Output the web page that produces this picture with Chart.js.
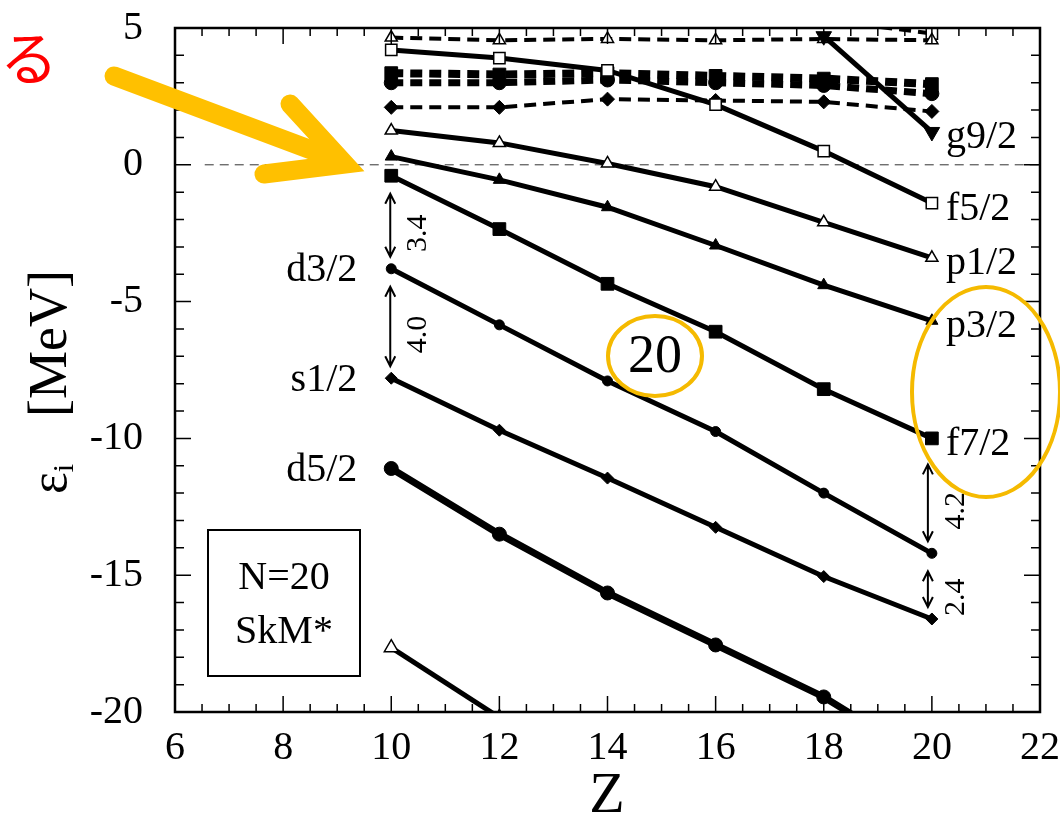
<!DOCTYPE html>
<html>
<head>
<meta charset="utf-8">
<script src="https://cdn.jsdelivr.net/npm/chart.js@4.4.1/dist/chart.umd.min.js"></script>
<style>
  html, body { margin: 0; padding: 0; background: #fff; }
</style>
</head>
<body>
<canvas id="levels" width="1060" height="820"></canvas>
<script>
// proton number Z on the x-axis
var zValues = [10, 12, 14, 16, 18, 20];

// single-particle energies [MeV], solid lines
var d52 = [-11.1, -13.5, -15.65, -17.55, -19.45, -21.9];
var s12 = [-7.8, -9.7, -11.45, -13.25, -15.05, -16.6];
var d32 = [-3.8, -5.85, -7.9, -9.75, -12.0, -14.2];
var f72 = [-0.4, -2.35, -4.35, -6.1, -8.2, -10.0];
var p32 = [0.3, -0.55, -1.55, -2.95, -4.4, -5.7];
var p12 = [1.25, 0.8, 0.05, -0.8, -2.1, -3.4];
var f52 = [4.2, 3.9, 3.45, 2.2, 0.5, -1.4];
var g92 = [null, null, null, null, 4.7, 1.2];
var p32deep = [-17.65, -20.2, null, null, null, null];

// upper levels, dashed lines
var dashTri = [4.65, 4.55, 4.6, 4.55, 4.6, 4.55];
var dashSqTop = [null, null, null, null, 5.3, 4.8];
var dashSq = [3.35, 3.3, 3.35, 3.25, 3.15, 2.95];
var dashCirc = [3.0, 3.0, 3.1, 3.0, 2.9, 2.6];
var dashDia = [2.1, 2.1, 2.4, 2.35, 2.3, 1.95];

// level names at the ends of the lines
var rightNames = ['g9/2', 'f5/2', 'p1/2', 'p3/2', 'f7/2'];
var rightLevels = [g92, f52, p12, p32, f72];
var leftNames = ['d3/2', 's1/2', 'd5/2'];
var leftLevels = [d32, s12, d52];

// gaps marked with double arrows: [Z, upper level, lower level]
var gaps = [[10, f72, d32], [10, d32, s12], [20, f72, d32], [20, d32, s12]];

var serif = '"Liberation Serif", "DejaVu Serif", serif';

function level(values, opts) {
  return Object.assign({
    data: zValues.map(function (z, i) { return { x: z, y: values[i] }; }),
    borderColor: '#000',
    backgroundColor: '#000',
    pointBackgroundColor: '#000',
    pointBorderColor: '#000',
    pointBorderWidth: 1,
    borderWidth: 5,
    pointRadius: 6,
    pointHoverRadius: 6,
    tension: 0,
    clip: 0
  }, opts);
}

var dash = [12, 7];

var datasets = [
  level(d52, { borderWidth: 7, pointStyle: 'circle', pointRadius: 7 }),
  level(s12, { pointStyle: 'rectRot', pointRadius: 6 }),
  level(d32, { pointStyle: 'circle', pointRadius: 5 }),
  level(f72, { pointStyle: 'rect', pointRadius: 9 }),
  level(p32, { pointStyle: 'triangle', pointRadius: 7 }),
  level(p12, { pointStyle: 'triangle', pointRadius: 7, pointBackgroundColor: '#fff', pointBorderWidth: 1.5 }),
  level(f52, { pointStyle: 'rect', pointRadius: 8, pointBackgroundColor: '#fff', pointBorderWidth: 1.5 }),
  level(g92, { pointStyle: 'triangle', pointRotation: 180, pointRadius: 9 }),
  level(p32deep, { pointStyle: 'triangle', pointRadius: 8, pointBackgroundColor: '#fff', pointBorderWidth: 1.5 }),
  level(dashTri, { borderWidth: 4, borderDash: dash, pointStyle: 'triangle', pointRadius: 7, pointBackgroundColor: '#fff', pointBorderWidth: 1.5 }),
  level(dashSqTop, { borderWidth: 4, borderDash: dash, pointStyle: 'rect', pointRadius: 8, pointBackgroundColor: '#fff', pointBorderWidth: 1.5 }),
  level(dashSq, { borderWidth: 8, borderDash: dash, pointStyle: 'rect', pointRadius: 9 }),
  level(dashCirc, { borderWidth: 7, borderDash: dash, pointStyle: 'circle', pointRadius: 7 }),
  level(dashDia, { borderWidth: 4, borderDash: dash, pointStyle: 'rectRot', pointRadius: 7 }),
  // zero energy line
  {
    data: [{ x: 6.55, y: 0 }, { x: 22, y: 0 }],
    borderColor: '#333',
    borderWidth: 1,
    borderDash: [9, 6],
    pointRadius: 0,
    clip: 0
  }
];

// inward ticks and the box round the plot
var frameTicks = {
  id: 'frameTicks',
  afterDatasetsDraw: function (chart) {
    var ctx = chart.ctx, a = chart.chartArea, x = chart.scales.x, y = chart.scales.y;
    ctx.save();
    ctx.strokeStyle = '#000';
    ctx.lineWidth = 1.5;
    ctx.beginPath();
    for (var v = 6; v <= 22; v += 0.5) {
      var px = x.getPixelForValue(v);
      var len = v % 2 === 0 ? 16 : 8;
      ctx.moveTo(px, a.bottom); ctx.lineTo(px, a.bottom - len);
      ctx.moveTo(px, a.top); ctx.lineTo(px, a.top + len);
    }
    for (var w = -20; w <= 5; w += 1) {
      var py = y.getPixelForValue(w);
      var l = w % 5 === 0 ? 16 : 9;
      ctx.moveTo(a.left, py); ctx.lineTo(a.left + l, py);
      ctx.moveTo(a.right, py); ctx.lineTo(a.right - l, py);
    }
    ctx.stroke();
    ctx.lineWidth = 2.5;
    ctx.strokeRect(a.left, a.top, a.right - a.left, a.bottom - a.top);
    ctx.restore();
  }
};

function doubleArrow(ctx, x, y1, y2) {
  ctx.beginPath();
  ctx.moveTo(x, y1); ctx.lineTo(x, y2);
  ctx.moveTo(x - 5, y1 + 10); ctx.lineTo(x, y1); ctx.lineTo(x + 5, y1 + 10);
  ctx.moveTo(x - 5, y2 - 10); ctx.lineTo(x, y2); ctx.lineTo(x + 5, y2 - 10);
  ctx.stroke();
}

// level names, gap arrows, the N=20 box, axis titles and the highlights
var notes = {
  id: 'notes',
  afterDraw: function (chart) {
    var ctx = chart.ctx, x = chart.scales.x, y = chart.scales.y;
    var last = zValues.length - 1;
    ctx.save();
    ctx.fillStyle = '#000';
    ctx.strokeStyle = '#000';
    ctx.textBaseline = 'middle';

    ctx.font = '40px ' + serif;
    ctx.textAlign = 'left';
    rightNames.forEach(function (name, i) {
      ctx.fillText(name, x.getPixelForValue(20) + 14, y.getPixelForValue(rightLevels[i][last]) + 6);
    });
    ctx.textAlign = 'right';
    leftNames.forEach(function (name, i) {
      ctx.fillText(name, x.getPixelForValue(10) - 34, y.getPixelForValue(leftLevels[i][0]) + 2);
    });

    // gap arrows with their sizes
    ctx.lineWidth = 2;
    gaps.forEach(function (g) {
      var idx = zValues.indexOf(g[0]);
      var hi = g[1][idx], lo = g[2][idx];
      var ax = x.getPixelForValue(g[0]) - (g[0] === 20 ? 4 : 1);
      var y1 = y.getPixelForValue(hi) + (g[0] === 20 && g[1] === f72 ? 26 : 18);
      var y2 = y.getPixelForValue(lo) - 12;
      doubleArrow(ctx, ax, y1, y2);
      ctx.save();
      ctx.translate(ax + 28, (y1 + y2) / 2 + 8);
      ctx.rotate(-Math.PI / 2);
      ctx.textAlign = 'center';
      ctx.font = '30px ' + serif;
      ctx.fillText((hi - lo).toFixed(1), 0, 0);
      ctx.restore();
    });

    // N=20 / SkM* box
    ctx.lineWidth = 2;
    ctx.strokeRect(208, 530, 152, 146);
    ctx.textAlign = 'center';
    ctx.font = '40px ' + serif;
    ctx.fillText('N=20', 284, 578);
    ctx.fillText('SkM*', 284, 632);

    // x-axis title
    ctx.font = '58px ' + serif;
    ctx.fillText('Z', 607, 797);

    // y-axis title
    ctx.save();
    ctx.translate(66, 494);
    ctx.rotate(-Math.PI / 2);
    ctx.textAlign = 'left';
    ctx.textBaseline = 'alphabetic';
    ctx.font = '52px ' + serif;
    ctx.fillText('\u03b5', 0, 0);
    var ew = ctx.measureText('\u03b5').width;
    ctx.font = '30px ' + serif;
    ctx.fillText('i', ew, 7);
    ctx.font = '54px ' + serif;
    ctx.fillText('[MeV]', 77, 0);
    ctx.restore();

    // highlights
    ctx.strokeStyle = '#F5BA00';
    ctx.lineWidth = 4;
    ctx.beginPath();
    ctx.ellipse(655, 356, 47, 40, 0, 0, Math.PI * 2);
    ctx.stroke();
    ctx.beginPath();
    ctx.ellipse(986, 392, 74, 105, 0, 0, Math.PI * 2);
    ctx.stroke();
    ctx.font = '54px ' + serif;
    ctx.fillStyle = '#000';
    ctx.textBaseline = 'middle';
    ctx.fillText('20', 655, 358);

    ctx.strokeStyle = '#FFC000';
    ctx.lineWidth = 19;
    ctx.lineCap = 'round';
    ctx.lineJoin = 'miter';
    ctx.beginPath();
    ctx.moveTo(114, 76); ctx.lineTo(338, 160);
    ctx.stroke();
    ctx.beginPath();
    ctx.moveTo(290, 104); ctx.lineTo(345, 164); ctx.lineTo(264, 174);
    ctx.stroke();

    ctx.fillStyle = '#FF0000';
    ctx.font = '58px "Noto Sans CJK JP", "Noto Sans CJK SC", sans-serif';
    ctx.textAlign = 'right';
    ctx.fillText('くる', 58, 58);
    ctx.restore();
  }
};

new Chart(document.getElementById('levels'), {
  type: 'line',
  data: { datasets: datasets },
  options: {
    responsive: false,
    animation: false,
    devicePixelRatio: 1,
    layout: { padding: { top: 28, right: 20, left: 0, bottom: 0 } },
    plugins: { legend: { display: false }, tooltip: { enabled: false } },
    scales: {
      x: {
        type: 'linear',
        min: 6,
        max: 22,
        afterFit: function (s) { s.height = 108; s.paddingLeft = 0; s.paddingRight = 0; },
        grid: { display: false, drawTicks: false },
        border: { display: false },
        ticks: { stepSize: 2, padding: 12, color: '#000', font: { family: serif, size: 40 } }
      },
      y: {
        min: -20,
        max: 5,
        afterFit: function (s) { s.width = 175; s.paddingTop = 0; s.paddingBottom = 0; },
        grid: { display: false, drawTicks: false },
        border: { display: false },
        ticks: { stepSize: 5, padding: 32, color: '#000', font: { family: serif, size: 40 } }
      }
    }
  },
  plugins: [frameTicks, notes]
});
</script>
</body>
</html>
